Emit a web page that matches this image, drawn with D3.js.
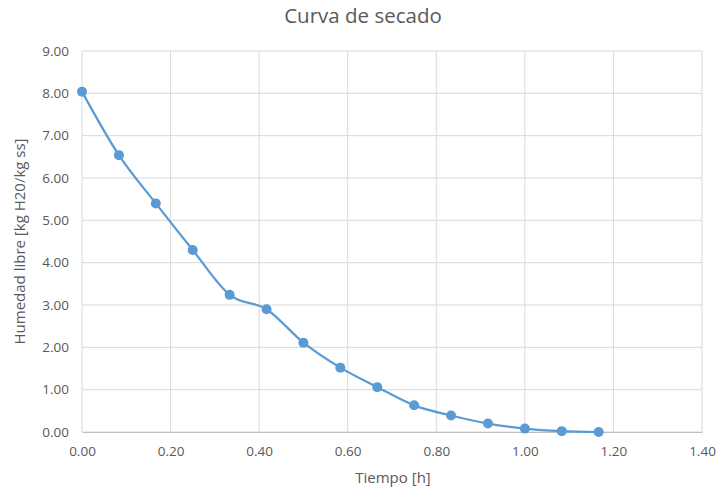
<!DOCTYPE html>
<html>
<head>
<meta charset="UTF-8">
<title>Curva de secado</title>
<script src="https://cdnjs.cloudflare.com/ajax/libs/d3/7.8.5/d3.min.js"></script>
<style>
  body { margin: 0; background: #fff; }
  svg text { font-family: "Open Sans", "Noto Sans", sans-serif; fill: #595959; }
</style>
</head>
<body>
<div id="chart"></div>
<script>
// tiempo [h] y humedad libre [kg H2O/kg ss]
var tiempo = [0, 1/12, 2/12, 3/12, 4/12, 5/12, 6/12, 7/12, 8/12, 9/12, 10/12, 11/12, 12/12, 13/12, 14/12];
var humedad = [8.04, 6.54, 5.40, 4.30, 3.24, 2.90, 2.11, 1.52, 1.06, 0.63, 0.39, 0.20, 0.08, 0.02, 0.00];
var xTicks = [0, 0.2, 0.4, 0.6, 0.8, 1.0, 1.2, 1.4];
var yTicks = [0, 1, 2, 3, 4, 5, 6, 7, 8, 9];

var width = 719, height = 491;
var margin = {top: 51, right: 17, bottom: 59, left: 82};
var w = width - margin.left - margin.right,
    h = height - margin.top - margin.bottom;

var svg = d3.select("#chart").append("svg")
    .attr("width", width)
    .attr("height", height);

var g = svg.append("g")
    .attr("transform", "translate(" + margin.left + "," + margin.top + ")");

var x = d3.scaleLinear().domain([0, 1.4]).range([0, w]);
var y = d3.scaleLinear().domain([0, 9]).range([h, 0]);

// grid
g.append("g").selectAll("line")
    .data(yTicks)
    .enter().append("line")
    .attr("x1", 0).attr("x2", w)
    .attr("y1", function(d) { return y(d); })
    .attr("y2", function(d) { return y(d); })
    .style("stroke", "#d9d9d9")
    .style("stroke-width", 1);

g.append("g").selectAll("line")
    .data(xTicks)
    .enter().append("line")
    .attr("y1", 0).attr("y2", h)
    .attr("x1", function(d) { return x(d); })
    .attr("x2", function(d) { return x(d); })
    .style("stroke", "#d9d9d9")
    .style("stroke-width", 1);

// axes
var xAxis = g.append("g")
    .attr("transform", "translate(0," + h + ")")
    .call(d3.axisBottom(x).tickValues(xTicks).tickFormat(d3.format(".2f")).tickSize(0).tickPadding(14));
xAxis.select(".domain").style("stroke", "#bfbfbf");
xAxis.selectAll("text").style("font-size", "13.5px").style("fill", "#595959");

var yAxis = g.append("g")
    .call(d3.axisLeft(y).tickValues(yTicks).tickFormat(d3.format(".2f")).tickSize(0).tickPadding(13));
yAxis.select(".domain").remove();
yAxis.selectAll("text").style("font-size", "13.5px").style("fill", "#595959");

// line
var line = d3.line()
    .x(function(d, i) { return x(tiempo[i]); })
    .y(function(d) { return y(d); })
    .curve(d3.curveCardinal.tension(0));

g.append("path")
    .datum(humedad)
    .attr("d", line)
    .style("fill", "none")
    .style("stroke", "#5b9bd5")
    .style("stroke-width", 2.25)
    .style("stroke-linejoin", "round");

g.append("g").selectAll("circle")
    .data(humedad)
    .enter().append("circle")
    .attr("cx", function(d, i) { return x(tiempo[i]); })
    .attr("cy", function(d) { return y(d); })
    .attr("r", 5)
    .style("fill", "#5b9bd5");

// titles
svg.append("text")
    .attr("x", 363).attr("y", 23)
    .style("text-anchor", "middle")
    .style("font-size", "20.5px")
    .text("Curva de secado");

svg.append("text")
    .attr("x", 393).attr("y", 483)
    .style("text-anchor", "middle")
    .style("font-size", "15px")
    .text("Tiempo [h]");

svg.append("text")
    .attr("transform", "translate(25," + (margin.top + h / 2) + ") rotate(-90)")
    .style("text-anchor", "middle")
    .style("font-size", "15px")
    .text("Humedad libre [kg H20/kg ss]");
</script>
</body>
</html>
